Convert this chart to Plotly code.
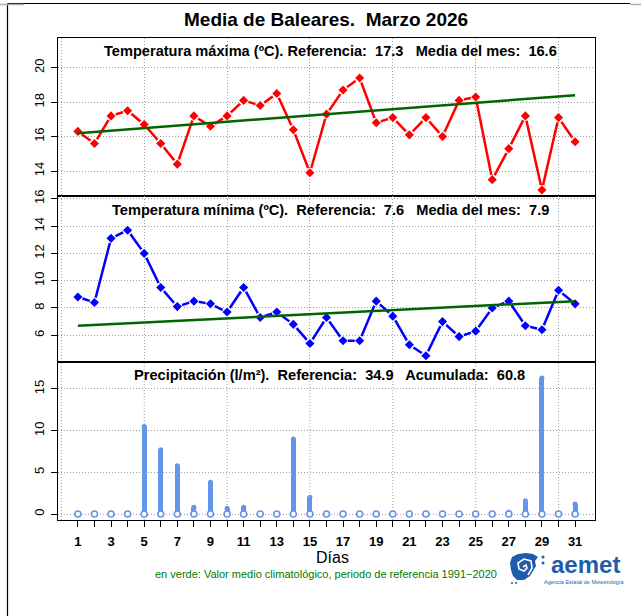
import plotly.graph_objects as go

# ---------------- data ----------------
days = list(range(1, 32))
tmax = [16.3, 15.6, 17.2, 17.5, 16.7, 15.6, 14.4, 17.2, 16.6, 17.2,
        18.1, 17.8, 18.5, 16.4, 13.9, 17.3, 18.7, 19.4, 16.8, 17.1,
        16.1, 17.1, 16.0, 18.1, 18.3, 13.5, 15.3, 17.2, 12.9, 17.1, 15.7]
tmin = [8.8, 8.4, 13.1, 13.7, 12.0, 9.5, 8.1, 8.5, 8.3, 7.7,
        9.5, 7.3, 7.7, 6.8, 5.4, 7.3, 5.6, 5.6, 8.5, 7.4,
        5.3, 4.5, 7.0, 5.9, 6.3, 8.0, 8.5, 6.7, 6.4, 9.3, 8.3]
prec = [0, 0, 0, 0, 10.5, 7.7, 5.8, 0.8, 3.8, 0.7,
        0.8, 0, 0, 9.0, 2.0, 0, 0, 0, 0.1, 0,
        0, 0, 0.1, 0, 0, 0.1, 0.2, 1.6, 16.3, 0.1, 1.2]
clim_days = [1, 31]
clim_tmax = [16.2, 18.4]
clim_tmin = [6.7, 8.5]

grid_days = [0, 5, 10, 15, 20, 25, 30]
ticks_tmax = [14, 16, 18, 20]
ticks_tmin = [6, 8, 10, 12, 14, 16]
ticks_prec = [0, 5, 10, 15]
xlabels = ["<b>%d</b>" % d if d % 2 == 1 else "" for d in days]

main_title = "Media de Baleares.  Marzo 2026"
title_max = "Temperatura máxima (ºC). Referencia:  17.3   Media del mes:  16.6"
title_min = "Temperatura mínima (ºC).  Referencia:  7.6   Media del mes:  7.9"
title_pre = "Precipitación (l/m²).  Referencia:  34.9   Acumulada:  60.8"
xlabel = "Días"
note = "en verde: Valor medio climatológico, periodo de referencia 1991−2020"

# ---------------- layout helpers ----------------
W, H = 641, 616
ML, MR, MT, MB = 58, 46, 38, 96
PW, PH = W - ML - MR, H - MT - MB


def pxx(x):
    return (x - ML) / PW


def pxy(y):
    return (H - MB - y) / PH


def nb(s):
    return s.replace("  ", "\u00a0\u00a0")


FONT = "Liberation Sans, Arial, Helvetica, sans-serif"
RED, BLUE, GREEN, PBLUE = "#ff0000", "#0000ff", "#006400", "#6495ed"
GRID = "#a0a0a0"
XR = [-0.2, 32.2]

fig = go.Figure()

# ---- top: max temperature ----
fig.add_trace(go.Scatter(x=days, y=tmax, mode="lines", line=dict(color=RED, width=2.5),
                         xaxis="x", yaxis="y", hoverinfo="skip"))
fig.add_trace(go.Scatter(x=days, y=tmax, mode="markers",
                         marker=dict(symbol="circle", size=10, color="white"),
                         xaxis="x", yaxis="y", hoverinfo="skip"))
fig.add_trace(go.Scatter(x=days, y=tmax, mode="markers",
                         marker=dict(symbol="diamond", size=7, color=RED),
                         xaxis="x", yaxis="y"))
fig.add_trace(go.Scatter(x=clim_days, y=clim_tmax, mode="lines",
                         line=dict(color=GREEN, width=2.5), xaxis="x", yaxis="y"))

# ---- middle: min temperature ----
fig.add_trace(go.Scatter(x=days, y=tmin, mode="lines", line=dict(color=BLUE, width=2.5),
                         xaxis="x2", yaxis="y2", hoverinfo="skip"))
fig.add_trace(go.Scatter(x=days, y=tmin, mode="markers",
                         marker=dict(symbol="circle", size=10, color="white"),
                         xaxis="x2", yaxis="y2", hoverinfo="skip"))
fig.add_trace(go.Scatter(x=days, y=tmin, mode="markers",
                         marker=dict(symbol="diamond", size=7, color=BLUE),
                         xaxis="x2", yaxis="y2"))
fig.add_trace(go.Scatter(x=clim_days, y=clim_tmin, mode="lines",
                         line=dict(color=GREEN, width=2.5), xaxis="x2", yaxis="y2"))

# ---- bottom: precipitation ----
fig.add_trace(go.Bar(x=days, y=prec, width=0.3, marker=dict(color=PBLUE, line=dict(width=0)),
                     xaxis="x3", yaxis="y3"))
cap_d = [d for d, v in zip(days, prec) if v > 0]
cap_v = [v for v in prec if v > 0]
fig.add_trace(go.Scatter(x=cap_d, y=cap_v, mode="markers",
                         marker=dict(symbol="circle", size=5, color=PBLUE),
                         xaxis="x3", yaxis="y3", hoverinfo="skip"))
fig.add_trace(go.Scatter(x=days, y=[0] * len(days), mode="markers",
                         marker=dict(symbol="circle", size=6, color="white",
                                     line=dict(color=PBLUE, width=1.6)),
                         xaxis="x3", yaxis="y3", hoverinfo="skip"))

d_top = [pxy(196.2), 1.0]
d_mid = [pxy(362.0), pxy(196.2)]
d_bot = [0.0, pxy(362.0)]

frame = dict(showline=True, linecolor="black", linewidth=1.2, mirror=True, zeroline=False,
             automargin=False)
ygrid = dict(showgrid=True, gridcolor=GRID, griddash="1px,2px", gridwidth=1,
             ticks="outside", ticklen=6, tickcolor="black", tickwidth=1,
             tickangle=-90, tickfont=dict(size=13, color="black", family=FONT),
             ticklabelstandoff=2)
xgrid = dict(range=XR, tickmode="array", tickvals=grid_days, showticklabels=False, ticks="",
             showgrid=True, gridcolor=GRID, griddash="1px,2px", gridwidth=1)

fig.update_layout(
    width=W, height=H, margin=dict(l=ML, r=MR, t=MT, b=MB, autoexpand=False),
    paper_bgcolor="white", plot_bgcolor="white", showlegend=False,
    font=dict(family=FONT, color="black"), bargap=0,
    xaxis=dict(anchor="y", **xgrid, **frame),
    xaxis2=dict(anchor="y2", **xgrid, **frame),
    xaxis3=dict(anchor="y3", range=XR, tickmode="array", tickvals=days, ticktext=xlabels,
                ticks="outside", ticklen=6, tickcolor="black", tickwidth=1,
                tickfont=dict(size=13, color="black", family=FONT), showgrid=False,
                ticklabelstandoff=3, **frame),
    yaxis=dict(domain=d_top, anchor="x", range=[12.54, 21.72], tickmode="array",
               tickvals=ticks_tmax, **ygrid, **frame),
    yaxis2=dict(domain=d_mid, anchor="x2", range=[4.04, 16.19], tickmode="array",
                tickvals=ticks_tmin, **ygrid, **frame),
    yaxis3=dict(domain=d_bot, anchor="x3", range=[-0.72, 18.23], tickmode="array",
                tickvals=ticks_prec, **ygrid, **frame),
)

shapes = []
# vertical grid in bottom panel
for g in grid_days:
    shapes.append(dict(type="line", xref="x3", yref="y3 domain", x0=g, x1=g, y0=0, y1=1,
                       layer="below", line=dict(color=GRID, width=1, dash="1px,2px")))

# outer frame lines of the picture
shapes.append(dict(type="line", xref="paper", yref="paper", x0=pxx(7.5), x1=pxx(630),
                   y0=pxy(3.5), y1=pxy(3.5), line=dict(color="black", width=1.2)))
shapes.append(dict(type="line", xref="paper", yref="paper", x0=pxx(7.5), x1=pxx(7.5),
                   y0=pxy(3.5), y1=pxy(616), line=dict(color="black", width=1.2)))
shapes.append(dict(type="line", xref="paper", yref="paper", x0=pxx(0), x1=pxx(24),
                   y0=pxy(4.5), y1=pxy(4.5), line=dict(color="#b0b0b0", width=1.5)))
shapes.append(dict(type="line", xref="paper", yref="paper", x0=pxx(630), x1=pxx(641),
                   y0=pxy(4.5), y1=pxy(4.5), line=dict(color="#b0b0b0", width=1.5)))

# aemet logo icon
LOGO = "#1f5cab"


def path(pts, close=True):
    s = "M " + " L ".join("%.5f,%.5f" % (pxx(x), pxy(y)) for x, y in pts)
    return s + (" Z" if close else "")


pen = [(512, 557), (518, 554), (526, 553), (533, 554), (538, 557), (535, 561), (536, 566),
       (533, 571), (530, 576), (524, 580), (517, 580), (513, 576), (511, 570), (510, 563)]
shapes.append(dict(type="path", xref="paper", yref="paper", path=path(pen),
                   fillcolor=LOGO, line=dict(width=0)))
spiral = [(523, 567), (526, 565), (527, 568), (524, 571), (519, 569), (518, 563),
          (524, 559), (531, 561), (532, 568), (528, 575)]
shapes.append(dict(type="path", xref="paper", yref="paper", path=path(spiral, close=False),
                   line=dict(color="white", width=1.6)))
for cx, cy, r in [(543, 557, 1.5), (543, 563, 1.5), (512, 583, 1.0), (516, 583, 1.0)]:
    shapes.append(dict(type="circle", xref="paper", yref="paper",
                       x0=pxx(cx - r), x1=pxx(cx + r), y0=pxy(cy + r), y1=pxy(cy - r),
                       fillcolor=LOGO, line=dict(width=0)))
fig.update_layout(shapes=shapes)

ann = [
    dict(text="<b>" + nb(main_title) + "</b>", x=pxx(326), y=pxy(20), font=dict(size=19)),
    dict(text="<b>" + nb(title_max) + "</b>", x=pxx(330), y=pxy(51), font=dict(size=14.6)),
    dict(text="<b>" + nb(title_min) + "</b>", x=pxx(330), y=pxy(210), font=dict(size=14.6)),
    dict(text="<b>" + nb(title_pre) + "</b>", x=pxx(329), y=pxy(375), font=dict(size=14.6)),
    dict(text=xlabel, x=pxx(332), y=pxy(557), font=dict(size=16)),
    dict(text=note, x=pxx(326), y=pxy(574), font=dict(size=11, color="#007a00")),
    dict(text="<b>aemet</b>", x=pxx(585), y=pxy(564), font=dict(size=24, color=LOGO),
         borderpad=0),
    dict(text="Agencia Estatal de Meteorología", x=pxx(584), y=pxy(582),
         font=dict(size=5.5, color=LOGO), borderpad=0),
]
for a in ann:
    a.update(xref="paper", yref="paper", showarrow=False, xanchor="center", yanchor="middle")
    a["font"].setdefault("color", "black")
    a["font"]["family"] = FONT
fig.update_layout(annotations=ann)

fig.write_html("out.html", post_script="document.body.style.margin='0';",
               config={"displayModeBar": False})
